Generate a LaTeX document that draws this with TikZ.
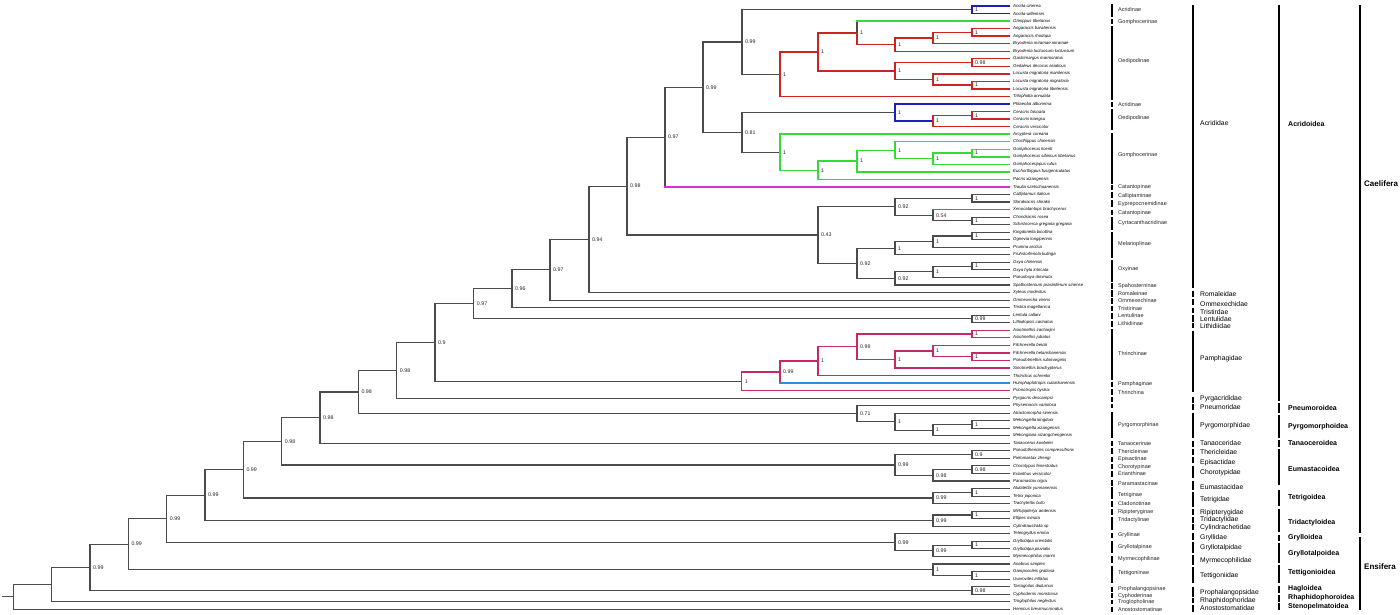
\documentclass[tikz,border=0pt]{standalone}
\usepackage{fontspec}
\setmainfont{Liberation Sans}
\usetikzlibrary{calc}
\definecolor{tg}{RGB}{75,75,75}
\definecolor{cblu}{RGB}{30,30,190}
\definecolor{cred}{RGB}{205,35,35}
\definecolor{cgrn}{RGB}{50,220,50}
\definecolor{cmag}{RGB}{210,50,210}
\definecolor{ccrm}{RGB}{200,40,100}
\definecolor{clbl}{RGB}{50,140,220}
\tikzset{
  tree/.style={draw=tg, line width=1.1pt, line cap=rect},
  blu/.style={draw=cblu, line width=1.4pt, line cap=rect},
  rd/.style={draw=cred, line width=1.4pt, line cap=rect},
  grn/.style={draw=cgrn, line width=1.4pt, line cap=rect},
  mag/.style={draw=cmag, line width=1.4pt, line cap=rect},
  crm/.style={draw=ccrm, line width=1.4pt, line cap=rect},
  lbl/.style={draw=clbl, line width=1.4pt, line cap=rect},
  tip/.style={anchor=west, inner sep=0pt, xshift=4pt, font=\fontsize{4.3}{5}\selectfont\itshape},
  bs/.style={anchor=west, inner sep=0pt, xshift=3pt, font=\fontsize{5.3}{6}\selectfont, text=black!85},
  bar/.style={draw=black, line width=1.8pt},
  sub/.style={anchor=west, inner sep=0pt, font=\fontsize{5.5}{6}\selectfont, text=black!85},
  fam/.style={anchor=west, inner sep=0pt, font=\fontsize{6.8}{7}\selectfont},
  sup/.style={anchor=west, inner sep=0pt, font=\fontsize{7}{8}\selectfont\bfseries},
  subord/.style={anchor=west, inner sep=0pt, font=\fontsize{8}{9}\selectfont\bfseries}
}
\newcommand\inode[5]{%
  \path ($(#3)!0.5!(#4)$) coordinate (#1m);
  \coordinate (#1x) at (#2,0);
  \coordinate (#1) at (#1x |- #1m);
  \node[bs] (#1b) at (#1) {#5};
}
\newcommand\kids[3][tree]{\foreach \cc in {#3}{\draw[#1] (#2) |- (\cc);}}
\newcommand\splitbr[4]{\draw[#1] (#3) -- (#3 |- #4); \draw[#2] (#3 |- #4) -- (#4);}
\begin{document}
\begin{tikzpicture}[x=1pt,y=-1pt]
\useasboundingbox (0,0) rectangle (1400,614);
\fill[white] (0,0) rectangle (1400,614);
% tips
\foreach \i in {1,...,81}{\coordinate (t\i) at (1009,{6+(\i-1)*7.54});}
\foreach \i/\n in {1/Acrida cinerea, 2/Acrida willemsei, 3/Orinippus tibetanus, 4/Angaracris barabensis, 5/Angaracris rhodopa, 6/Bryodema miramae miramae, 7/Bryodema luctuosum luctuosum, 8/Gastrimargus marmoratus, 9/Oedaleus decorus asiaticus, 10/Locusta migratoria manilensis, 11/Locusta migratoria migratoria, 12/Locusta migratoria tibetensis, 13/Trilophidia annulata, 14/Phlaeoba albonema, 15/Ceracris fasciata, 16/Ceracris kiangsu, 17/Ceracris versicolor, 18/Arcyptera coreana, 19/Chorthippus chinensis, 20/Gomphocerus licenti, 21/Gomphocerus sibiricus tibetanus, 22/Gomphocerippus rufus, 23/Euchorthippus fusigeniculatus, 24/Pacris xizangensis, 25/Traulia szetschuanensis, 26/Calliptamus italicus, 27/Shirakiacris shirakii, 28/Xenocatantops brachycerus, 29/Chondracris rosea, 30/Schistocerca gregaria gregaria, 31/Kingdonella bicollina, 32/Ognevia longipennis, 33/Prumna arctica, 34/Fruhstorferiola kulinga, 35/Oxya chinensis, 36/Oxya hyla intricata, 37/Pseudoxya diminuta, 38/Spathosternum prasiniferum sinense, 39/Xyleus modestus, 40/Ommexecha virens, 41/Tristira magellanica, 42/Lentula callani, 43/Lithidiopsis carinatus, 44/Asiotmethis zacharjini, 45/Asiotmethis jubatus, 46/Filchnerella beicki, 47/Filchnerella helanshanensis, 48/Pseudotmethis rubimarginis, 49/Sinotmethis brachypterus, 50/Thrinchus schrenkii, 51/Humphaplotropis culaishanensis, 52/Prionotropis hystrix, 53/Pyrgacris descampsi, 54/Physemacris variolosa, 55/Atractomorpha sinensis, 56/Mekongiella kingdoni, 57/Mekongiella xizangensis, 58/Mekongiana xizangchengensis, 59/Tanaocerus koebelei, 60/Pseudothericles compressifrons, 61/Pielomastax zhengi, 62/Chorotypus fenestratus, 63/Erianthus versicolor, 64/Paramastax nigra, 65/Alulatettix yunnanensis, 66/Tetrix japonica, 67/Trachytettix bufo, 68/Mirhipipteryx andensis, 69/Ellipes minuta, 70/Cylindraustralia sp, 71/Teleogryllus emma, 72/Gryllotalpa orientalis, 73/Gryllotalpa pluvialis, 74/Myrmecophilus manni, 75/Anabrus simplex, 76/Gampsocleis gratiosa, 77/Uvarovites inflatus, 78/Tarragoilus diuturnus, 79/Cyphoderris monstrosa, 80/Troglophilus neglectus, 81/Hemicus brevimucronatus}{\node[tip] (l\i) at (t\i) {\n};}
% internal nodes
\inode{a1}{972}{t1}{t2}{1}
\inode{a2}{972}{t4}{t5}{1}
\inode{a3}{933}{a2}{t6}{1}
\inode{a4}{895}{a3}{t7}{1}
\inode{a5}{857}{t3}{a4}{1}
\inode{a6}{972}{t8}{t9}{0.98}
\inode{a7}{972}{t11}{t12}{1}
\inode{a8}{933}{t10}{a7}{1}
\inode{a9}{895}{a6}{a8}{1}
\inode{a10}{818}{a5}{a9}{1}
\inode{a11}{780}{a10}{t13}{1}
\inode{a12}{742}{a1}{a11}{0.99}
\inode{b1}{972}{t15}{t16}{1}
\inode{b2}{933}{b1}{t17}{1}
\inode{b3}{895}{t14}{b2}{1}
\inode{b4}{972}{t20}{t21}{1}
\inode{b5}{933}{b4}{t22}{1}
\inode{b6}{895}{t19}{b5}{1}
\inode{b7}{857}{b6}{t23}{1}
\inode{b8}{818}{b7}{t24}{1}
\inode{b9}{780}{t18}{b8}{1}
\inode{b10}{742}{b3}{b9}{0.81}
\inode{c1}{703}{a12}{b10}{0.99}
\inode{c2}{665}{c1}{t25}{0.97}
\inode{d1}{972}{t26}{t27}{1}
\inode{d2}{972}{t29}{t30}{1}
\inode{d3}{933}{t28}{d2}{0.54}
\inode{d4}{895}{d1}{d3}{0.92}
\inode{d5}{972}{t31}{t32}{1}
\inode{d6}{933}{d5}{t33}{1}
\inode{d7}{895}{d6}{t34}{1}
\inode{d8}{972}{t35}{t36}{1}
\inode{d9}{933}{d8}{t37}{1}
\inode{d10}{895}{d9}{t38}{0.92}
\inode{d11}{857}{d7}{d10}{0.92}
\inode{d12}{818}{d4}{d11}{0.43}
\inode{e1}{627}{c2}{d12}{0.98}
\inode{e2}{589}{e1}{t39}{0.94}
\inode{e3}{550}{e2}{t40}{0.97}
\inode{e4}{512}{e3}{t41}{0.96}
\inode{e5}{972}{t42}{t43}{0.99}
\inode{e6}{473.7}{e4}{e5}{0.97}
\inode{f1}{972}{t44}{t45}{1}
\inode{f2}{972}{t47}{t48}{1}
\inode{f3}{933}{t46}{f2}{1}
\inode{f4}{895}{f3}{t49}{1}
\inode{f5}{857}{f1}{f4}{0.99}
\inode{f6}{818}{f5}{t50}{1}
\inode{f7}{780}{f6}{t51}{0.99}
\inode{f8}{741.7}{f7}{t52}{1}
\inode{g1}{435}{e6}{f8}{0.9}
\inode{g2}{396.7}{g1}{t53}{0.98}
\inode{h1}{972}{t56}{t57}{1}
\inode{h2}{933}{h1}{t58}{1}
\inode{h3}{895}{t55}{h2}{1}
\inode{h4}{857}{t54}{h3}{0.71}
\inode{g3}{358.3}{g2}{h4}{0.98}
\inode{g4}{320}{g3}{t59}{0.98}
\inode{i1}{972}{t60}{t61}{0.9}
\inode{i2}{972}{t62}{t63}{0.98}
\inode{i3}{933}{i2}{t64}{0.98}
\inode{i4}{895}{i1}{i3}{0.99}
\inode{g5}{281.7}{g4}{i4}{0.98}
\inode{j1}{972}{t65}{t66}{1}
\inode{j2}{933}{j1}{t67}{0.99}
\inode{g6}{243.3}{g5}{j2}{0.99}
\inode{k1}{972}{t68}{t69}{1}
\inode{k2}{933}{k1}{t70}{0.99}
\inode{g7}{205}{g6}{k2}{0.99}
\inode{m1}{972}{t72}{t73}{1}
\inode{m2}{933}{m1}{t74}{0.99}
\inode{m3}{895}{t71}{m2}{0.99}
\inode{g8}{166.7}{g7}{m3}{0.99}
\inode{n1}{972}{t76}{t77}{1}
\inode{n2}{933}{t75}{n1}{1}
\inode{g9}{128.3}{g8}{n2}{0.99}
\inode{o1}{972}{t78}{t79}{0.98}
\inode{g10}{90}{g9}{o1}{0.99}
\inode{g11}{51.7}{g10}{t80}{}
\inode{root}{13.3}{g11}{t81}{}
\coordinate (stubx) at (3,0);
\coordinate (stub) at (stubx |- root);
% gray branches
\draw[tree] (stub) -- (root);
\kids{root}{g11,t81}
\kids{g11}{g10,t80}
\kids{g10}{g9,o1}
\kids{o1}{t78,t79}
\kids{g9}{g8,n2}
\kids{n2}{t75,n1}
\kids{n1}{t76,t77}
\kids{g8}{g7,m3}
\kids{m3}{t71,m2}
\kids{m2}{m1,t74}
\kids{m1}{t72,t73}
\kids{g7}{g6,k2}
\kids{k2}{k1,t70}
\kids{k1}{t68,t69}
\kids{g6}{g5,j2}
\kids{j2}{j1,t67}
\kids{j1}{t65,t66}
\kids{g5}{g4,i4}
\kids{i4}{i1,i3}
\kids{i3}{i2,t64}
\kids{i2}{t62,t63}
\kids{i1}{t60,t61}
\kids{g4}{g3,t59}
\kids{g3}{g2,h4}
\kids{h4}{t54,h3}
\kids{h3}{t55,h2}
\kids{h2}{h1,t58}
\kids{h1}{t56,t57}
\kids{g2}{g1,t53}
\kids{g1}{e6,f8}
\kids{e6}{e4,e5}
\kids{e5}{t42,t43}
\kids{e4}{e3,t41}
\kids{e3}{e2,t40}
\kids{e2}{e1,t39}
\kids{e1}{c2,d12}
\kids{d12}{d4,d11}
\kids{d11}{d7,d10}
\kids{d10}{d9,t38}
\kids{d9}{d8,t37}
\kids{d8}{t35,t36}
\kids{d7}{d6,t34}
\kids{d6}{d5,t33}
\kids{d5}{t31,t32}
\kids{d4}{d1,d3}
\kids{d3}{d2}
\kids{d2}{t29,t30}
\kids{d1}{t26,t27}
\kids{c2}{c1}
\kids{c1}{a12,b10}
\kids{a12}{a1,a11}
\kids{b10}{b3,b9}
% coloured branches
\splitbr{tree}{mag}{c2}{t25}
\splitbr{tree}{mag}{d3}{t28}
\kids[blu]{a1}{t1,t2}
\kids[rd]{a11}{a10,t13}
\kids[rd]{a10}{a5,a9}
\kids[rd]{a5}{a4}
\splitbr{tree}{grn}{a5}{t3}
\kids[rd]{a4}{a3,t7}
\kids[rd]{a3}{a2,t6}
\kids[rd]{a2}{t4,t5}
\kids[rd]{a9}{a6,a8}
\kids[rd]{a6}{t8,t9}
\kids[rd]{a8}{t10,a7}
\kids[rd]{a7}{t11,t12}
\kids[blu]{b3}{t14,b2}
\kids[rd]{b2}{b1,t17}
\kids[rd]{b1}{t15,t16}
\kids[grn]{b9}{t18,b8}
\kids[grn]{b8}{b7,t24}
\kids[grn]{b7}{b6,t23}
\kids[grn]{b6}{t19,b5}
\kids[grn]{b5}{b4,t22}
\kids[grn]{b4}{t20,t21}
\kids[crm]{f8}{f7,t52}
\kids[crm]{f7}{f6}
\splitbr{crm}{lbl}{f7}{t51}
\kids[crm]{f6}{f5,t50}
\kids[crm]{f5}{f1,f4}
\kids[crm]{f4}{f3,t49}
\kids[crm]{f3}{t46,f2}
\kids[crm]{f2}{t47,t48}
\kids[crm]{f1}{t44,t45}
% column 1: subfamilies
\foreach \a/\b/\c/\t [count=\k] in {4/16.7/10/Acridinae, 19/24/22/Gomphocerinae, 26/100/61.3/Oedipodinae, 102/106.5/104.3/Acridinae, 109/130/118.3/Oedipodinae, 132.5/183.5/155/Gomphocerinae, 184.5/189.5/187.3/Catantopinae, 192/198/196/Calliptaminae, 200/206.5/204/Eyprepocnemidinae, 209.5/215/213.3/Catantopinae, 216.5/230/223.3/Cyrtacanthacridinae, 232/257.5/243.7/Melanoplinae, 260/281.5/269/Oxyinae, 283.3/288.5/286/Spahosterninae, 290/296.7/293.3/Romaleinae, 298.3/304/301/Ommexechinae, 306/311/308.3/Tristirinae, 313.3/318.5/316/Lentulinae, 321/326.7/323.7/Lithidiinae, 329.3/380/353.3/Thrinchinae, 381.7/386.7/384/Pamphaginae, 389.3/395/392.3/Thrinchina, 411.7/438.3/425/Pyrgomorphinae, 440.7/446/443.3/Tanaocerinae, 448.3/454/451.7/Thericleinae, 456.7/461.7/459.3/Episactinae, 464/469.3/466.7/Chorotypinae, 471/476.7/474/Erianthinae, 480/486/483.7/Paramastacinae, 487.3/499/495/Tetriginae, 501/506.5/504/Cladonotinae, 509.3/515/512.3/Ripipteryginae, 516.7/530/520/Tridactylinae, 532.7/538.3/535.3/Gryllinae, 540.7/553.3/547/Gryllotalpinae, 555.7/563/559.3/Myrmecophilinae, 565.7/582.7/573.3/Tettigoniinae, 586.7/591.7/589/Prophalangopsinae, 593.3/598.3/596/Cyphoderinae, 600/604/602.3/Troglopholinae, 606.7/612/610/Anostostomatinae}{
  \draw[bar] (1112,\a) -- (1112,\b);
  \node[sub] (sf\k) at (1118,\c) {\t};
}
\draw[bar] (1112,397) -- (1112,401.5);
\draw[bar] (1112,403.5) -- (1112,408);
% column 2: families
\foreach \a/\b/\c/\t [count=\k] in {5/288.3/123.3/Acrididae, 290.7/297.3/294/Romaleidae, 299.3/305/304/Ommexechidae, 308.3/313.3/311.7/Tristirdae, 315/321.7/319.3/Lentulidae, 323.3/328.3/326/Lithidiidae, 330.7/391.7/358.3/Pamphagidae, 396.7/402.5/399/Pyrgacrididae, 404/410/406.7/Pneumoridae, 412.7/438.3/426/Pyrgomorphidae, 440.7/446.7/443.3/Tanaoceridae, 449.3/455/452.3/Thericleidae, 457.3/463.3/462.3/Episactidae, 466/478.3/472.7/Chorotypidae, 480.5/489.5/487.3/Eumastacidae, 492/507.3/499.3/Tetrigidae, 509.3/515/512.7/Ripipterygidae, 516.7/522.7/519.3/Tridactylidae, 524/530/527.3/Cylindrachetidae, 533.3/540/538/Gryllidae, 541.7/553.3/547.7/Gryllotalpidae, 555/565/560.7/Myrmecophilidae, 566.7/583.3/575.7/Tettigoniidae, 586.7/596.7/592.7/Prophalangopsidae, 598.3/603.3/601/Rhaphidophoridae, 605/611.7/608/Anostostomatidae}{
  \draw[bar] (1193,\a) -- (1193,\b);
  \node[fam] (fm\k) at (1200,\c) {\t};
}
% column 3: superfamilies
\foreach \a/\b/\c/\t [count=\k] in {5/401/124.3/Acridoidea, 403.3/413/408.3/Pneumoroidea, 415/438.3/426.7/Pyrgomorphoidea, 440/446.7/443.3/Tanaoceroidea, 449.3/485/469.3/Eumastacoidea, 490/506/497.7/Tetrigoidea, 509.3/531.7/522.7/Tridactyloidea, 535/540.7/538/Grylloidea, 542.7/563.3/554/Gryllotalpoidea, 565/583.3/572.3/Tettigonioidea, 586/592.7/588.3/Hagloidea, 595/601.7/598/Rhaphidophoroidea, 603.3/610/606.7/Stenopelmatoidea}{
  \draw[bar] (1279,\a) -- (1279,\b);
  \node[sup] (spf\k) at (1288,\c) {\t};
}
% column 4: suborders
\draw[bar] (1360,5) -- (1360,533.3);
\node[subord] (caelifera) at (1364,184) {Caelifera};
\draw[bar] (1360,536.7) -- (1360,610);
\node[subord] (ensifera) at (1364,566.7) {Ensifera};
\end{tikzpicture}
\end{document}
